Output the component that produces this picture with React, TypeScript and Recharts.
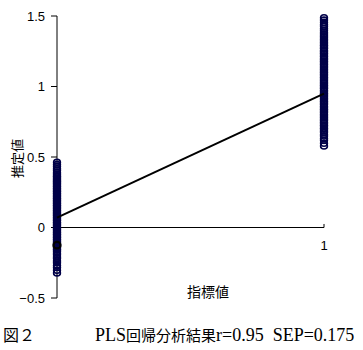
import React from 'react';
import { ScatterChart, Scatter, XAxis, YAxis, ReferenceLine, ReferenceDot } from 'recharts';

const xCategories = [0, 1];
const group0Values = [
  0.462, 0.446, 0.433, 0.417, 0.404, 0.389, 0.377, 0.366, 0.358, 0.347, 0.339, 0.330, 0.323, 0.313,
  0.306, 0.296, 0.289, 0.278, 0.272, 0.261, 0.255, 0.244, 0.237, 0.227, 0.220, 0.210, 0.203, 0.192,
  0.186, 0.175, 0.169, 0.158, 0.152, 0.141, 0.134, 0.124, 0.117, 0.107, 0.100, 0.090, 0.083, 0.072,
  0.066, 0.055, 0.049, 0.038, 0.032, 0.021, 0.014, 0.004, -0.003, -0.013, -0.020, -0.030, -0.037,
  -0.047, -0.054, -0.065, -0.071, -0.082, -0.088, -0.099, -0.106, -0.116, -0.123, -0.134, -0.141,
  -0.152, -0.160, -0.171, -0.183, -0.194, -0.209, -0.220, -0.237, -0.250, -0.269, -0.284, -0.304, -0.322,
];
const group1Values = [
  1.488, 1.471, 1.456, 1.440, 1.428, 1.411, 1.399, 1.385, 1.373, 1.360, 1.350, 1.337, 1.328, 1.316,
  1.307, 1.295, 1.288, 1.275, 1.269, 1.256, 1.249, 1.237, 1.230, 1.218, 1.211, 1.199, 1.192, 1.180,
  1.173, 1.162, 1.154, 1.143, 1.135, 1.124, 1.116, 1.105, 1.098, 1.086, 1.079, 1.067, 1.060, 1.049,
  1.041, 1.030, 1.022, 1.011, 1.003, 0.992, 0.985, 0.973, 0.966, 0.954, 0.947, 0.936, 0.928, 0.917,
  0.909, 0.898, 0.890, 0.879, 0.872, 0.860, 0.853, 0.841, 0.834, 0.823, 0.815, 0.804, 0.796, 0.785,
  0.777, 0.766, 0.758, 0.747, 0.739, 0.727, 0.719, 0.706, 0.698, 0.685, 0.675, 0.660, 0.649, 0.632,
  0.618, 0.597, 0.578,
];
const highlightValues = [-0.125];
const fitLineValues = [0.07, 0.95];
const yTicks = [-0.5, 0, 0.5, 1, 1.5];
const xTicks = [1];

const group0Data = group0Values.map((y) => ({ x: xCategories[0], y }));
const group1Data = group1Values.map((y) => ({ x: xCategories[1], y }));
const highlightData = highlightValues.map((y) => ({ x: xCategories[0], y }));
const fitData = fitLineValues.map((y, i) => ({ x: xCategories[i], y }));

const NAVY = '#000048';
const TICK_FONT = '"Liberation Sans", Arial, sans-serif';
const CJK_FONT = '"Noto Sans CJK JP", sans-serif';

const Marker = (props: any) => (
  <ellipse cx={props.cx} cy={props.cy} rx={3.4} ry={3} fill="none" stroke={NAVY} strokeWidth={1.6} />
);
const BlackMarker = (props: any) => (
  <ellipse cx={props.cx} cy={props.cy} rx={3.5} ry={3.3} fill="none" stroke="#000" strokeWidth={2.2} />
);
const NoMarker = () => <g />;

const fmt = (v: number) => (v < 0 ? '\u2212' + String(Math.abs(v)) : String(v));

export default function App() {
  return (
    <div style={{ position: 'absolute', left: 0, top: 0, width: 363, height: 350, background: '#fff' }}>
      <ScatterChart width={363} height={350} margin={{ top: 16, right: 39, bottom: 52, left: 7 }}>
        <XAxis type="number" dataKey="x" domain={[0, 1]} ticks={xTicks} hide />
        <YAxis
          type="number"
          dataKey="y"
          domain={[-0.5, 1.5]}
          ticks={yTicks}
          width={50}
          tickFormatter={fmt}
          axisLine={{ stroke: '#000', strokeWidth: 1 }}
          tickLine={{ stroke: '#000', strokeWidth: 1 }}
          tickSize={6}
          tickMargin={6}
          tick={{ fill: '#000', fontSize: 13, fontFamily: TICK_FONT }}
          interval={0}
        />
        <ReferenceLine y={0} stroke="#000" strokeWidth={1} />
        <ReferenceLine segment={[{ x: xTicks[0], y: 0 }, { x: xTicks[0], y: 0.025 }]} stroke="#000" strokeWidth={1} />
        <ReferenceDot
          x={xTicks[0]}
          y={0}
          r={0.01}
          fill="none"
          stroke="none"
          label={{ value: String(xTicks[0]), position: 'bottom', offset: 13, fill: '#000', fontSize: 13, fontFamily: TICK_FONT }}
        />
        <Scatter data={group0Data} shape={Marker} isAnimationActive={false} />
        <Scatter data={group1Data} shape={Marker} isAnimationActive={false} />
        <Scatter data={highlightData} shape={BlackMarker} isAnimationActive={false} />
        <Scatter
          data={fitData}
          shape={NoMarker}
          line={{ stroke: '#000', strokeWidth: 2 }}
          lineType="joint"
          isAnimationActive={false}
        />
      </ScatterChart>
      <svg width={363} height={350} style={{ position: 'absolute', left: 0, top: 0, pointerEvents: 'none' }}>
        <text
          x={16}
          y={158.5}
          transform="rotate(-90 16 158.5)"
          textAnchor="middle"
          dominantBaseline="central"
          fontSize={13}
          fontFamily={CJK_FONT}
          fill="#000"
        >
          推定値
        </text>
        <text x={208} y={291} textAnchor="middle" dominantBaseline="central" fontSize={14} fontFamily={CJK_FONT} fill="#000">
          指標値
        </text>
        <text x={3} y={341} fontSize={16} fontFamily={CJK_FONT} fill="#000">
          図２
        </text>
        <text x={95} y={341} fill="#000" fontFamily={'"Liberation Serif", "Times New Roman", serif'} fontSize={18}>
          <tspan>PLS</tspan>
          <tspan fontSize={15} fontFamily={CJK_FONT}>回帰分析結果</tspan>
          <tspan>r=0.95</tspan>
          <tspan dx={9}>SEP=0.175</tspan>
        </text>
      </svg>
    </div>
  );
}
